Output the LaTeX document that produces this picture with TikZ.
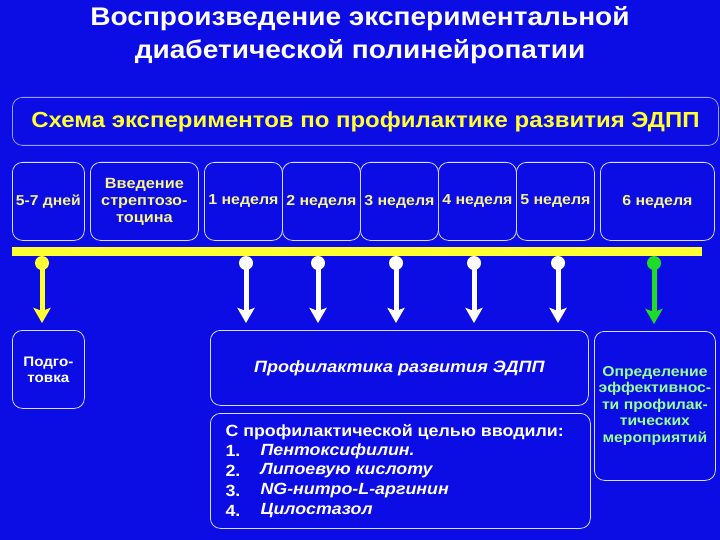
\documentclass[tikz,border=0pt]{standalone}
\usepackage{fontspec}
\setmainfont{Liberation Sans}[FakeStretch=1.1]
\usetikzlibrary{arrows.meta}
\definecolor{bg}{RGB}{12,12,228}
\definecolor{ylw}{RGB}{255,255,50}
\definecolor{pylw}{RGB}{245,245,140}
\definecolor{grn}{RGB}{30,220,40}
\definecolor{lgrn}{RGB}{150,255,150}
\definecolor{edge}{RGB}{215,220,255}
\definecolor{hedge}{RGB}{150,160,255}
\begin{document}
\begin{tikzpicture}[x=1pt,y=-1pt,
  box/.style={draw=edge, line width=0.8pt, rounded corners=10pt, inner sep=0pt, anchor=north west, align=center, text=white},
  wk/.style={box, minimum width=78pt, minimum height=78pt, text=pylw, font=\bfseries\fontsize{14.5}{17}\selectfont},
  dot/.style={circle, inner sep=0pt, minimum size=14pt},
  arr/.style={line width=5pt, -{Stealth[width=17pt,length=15pt,inset=3pt]}, shorten >=7pt},
  lst/.style={anchor=west, text=white, font=\bfseries\fontsize{16.2}{19}\selectfont},
  itm/.style={lst, font=\bfseries\itshape\fontsize{16.2}{19}\selectfont}
]
\useasboundingbox (0,0) rectangle (720,540);
\fill[bg] (0,0) rectangle (720,540);
% title
\node[text=white, align=center, font=\bfseries\fontsize{25.5}{33}\selectfont] (title) at (360,35) {Воспроизведение экспериментальной\\диабетической полинейропатии};
% header
\node[box, draw=hedge, minimum width=706pt, minimum height=48pt, text=ylw, font=\bfseries\fontsize{21.8}{26}\selectfont] (head) at (12,97) {Схема экспериментов по профилактике развития ЭДПП};
% top row
\node[box, minimum width=72pt, minimum height=78pt, text=pylw, font=\bfseries\fontsize{14.3}{17}\selectfont] (d57) at (12,162) {5-7 дней};
\node[box, minimum width=108pt, minimum height=78pt, text=pylw, font=\bfseries\fontsize{14.8}{17}\selectfont] (strep) at (90,162) {Введение\\стрептозо-\\тоцина};
\node[wk] (w1) at (204,162) {1 неделя};
\node[wk] (w2) at (282,162) {2 неделя};
\node[wk] (w3) at (360,162) {3 неделя};
\node[wk] (w4) at (438,162) {4 неделя};
\node[wk] (w5) at (516,162) {5 неделя};
\node[wk, minimum width=114pt] (w6) at (600,162) {6 неделя};
% bar
\node[fill=ylw, inner sep=0pt, minimum width=690pt, minimum height=9pt, anchor=north west] (bar) at (12,247) {};
% bottom boxes
\node[box, minimum width=72pt, minimum height=78pt, font=\bfseries\fontsize{13.8}{16}\selectfont] (pod) at (12,330) {Подго-\\товка};
\node[box, minimum width=378pt, minimum height=75pt, font=\bfseries\itshape\fontsize{16.4}{20}\selectfont] (prof) at (210,330) {Профилактика развития ЭДПП};
\node[box, minimum width=380pt, minimum height=115pt] (list) at (210,413) {};
\node[box, minimum width=121pt, minimum height=149pt, text=lgrn, font=\bfseries\fontsize{14.3}{16.5}\selectfont] (opr) at (594,331) {Определение\\эффективнос-\\ти профилак-\\тических\\мероприятий};
% list text
\node[lst] (l0) at (222,432) {С профилактической целью вводили:};
\node[lst] (n1) at (222,451) {1.};
\node[lst] (n2) at (222,471) {2.};
\node[lst] (n3) at (222,491) {3.};
\node[lst] (n4) at (222,511) {4.};
\node[itm] (t1) at (257,451) {Пентоксифилин.};
\node[itm] (t2) at (257,471) {Липоевую кислоту};
\node[itm] (t3) at (257,491) {NG-нитро-L-аргинин};
\node[itm] (t4) at (257,511) {Цилостазол};
% dots
\node[dot, fill=ylw] (c0) at (42,263) {};
\node[dot, fill=white] (c1) at (246,263) {};
\node[dot, fill=white] (c2) at (318,263) {};
\node[dot, fill=white] (c3) at (396,263) {};
\node[dot, fill=white] (c4) at (474,263) {};
\node[dot, fill=white] (c5) at (558,263) {};
\node[dot, fill=grn] (c6) at (654,263) {};
% arrows
\draw[arr, ylw] (c0.center) -- (c0.center |- pod.north);
\foreach \i in {1,...,5} \draw[arr, white] (c\i.center) -- (c\i.center |- prof.north);
\draw[arr, grn] (c6.center) -- (c6.center |- opr.north);
\end{tikzpicture}
\end{document}
